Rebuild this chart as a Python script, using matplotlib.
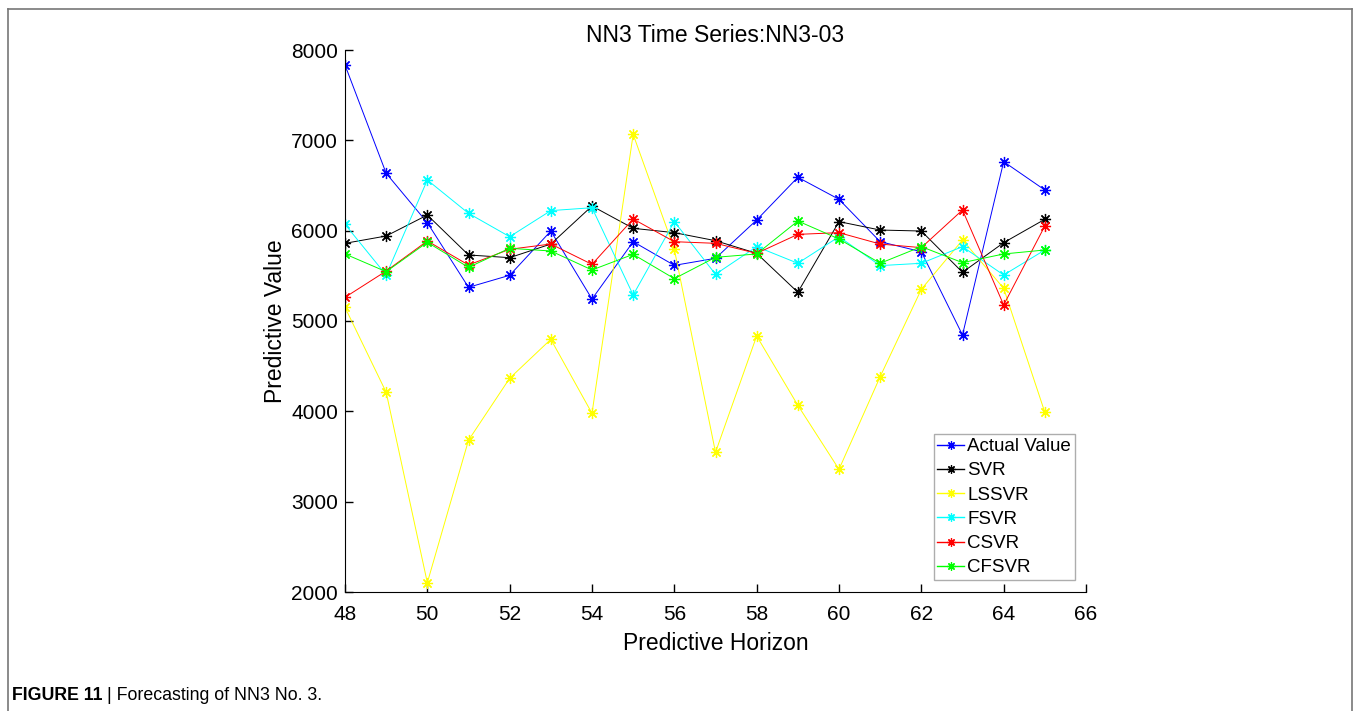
import matplotlib.pyplot as plt
from matplotlib.lines import Line2D

plt.rcParams['font.family'] = ['Liberation Sans', 'DejaVu Sans']

# forecast horizon and series
horizon = list(range(48, 66))
actual = [7834, 6635, 6088, 5373, 5506, 5996, 5243, 5878, 5616,
          5694, 6118, 6591, 6347, 5878, 5767, 4845, 6764, 6450]
svr = [5860, 5941, 6173, 5731, 5701, 5852, 6273, 6026, 5978,
       5889, 5749, 5318, 6100, 6007, 5996, 5539, 5867, 6126]
lssvr = [5151, 4211, 2103, 3680, 4366, 4797, 3978, 7066, 5794,
         3546, 4834, 4067, 3358, 4384, 5351, 5897, 5362, 3989]
fsvr = [6070, 5509, 6561, 6192, 5933, 6222, 6254, 5288, 6100,
        5517, 5823, 5639, 5933, 5613, 5639, 5823, 5509, 5786]
csvr = [5262, 5553, 5886, 5620, 5794, 5852, 5627, 6129, 5878,
        5860, 5749, 5959, 5978, 5852, 5812, 6229, 5177, 6052]
cfsvr = [5742, 5546, 5871, 5594, 5805, 5775, 5565, 5738, 5469,
         5705, 5742, 6107, 5908, 5639, 5823, 5646, 5742, 5786]

series = [('Actual Value', actual, '#0000ff'),
          ('SVR', svr, '#000000'),
          ('LSSVR', lssvr, '#ffff00'),
          ('FSVR', fsvr, '#00ffff'),
          ('CSVR', csvr, '#ff0000'),
          ('CFSVR', cfsvr, '#00ff00')]

fig = plt.figure(figsize=(13.56, 7.11), dpi=100)
ax = fig.add_axes([345 / 1356, 1 - 592 / 711, (1086 - 345) / 1356, (592 - 50) / 711])

star = (8, 2, 0)
for name, vals, col in series:
    ax.plot(horizon, vals, color=col, lw=0.7, marker=star, ms=8, mew=0.9,
            label=name)

ax.set_xlim(48, 66)
ax.set_ylim(2000, 8000)
ax.set_xticks(range(48, 67, 2))
ax.set_yticks(range(2000, 8001, 1000))
ax.tick_params(direction='in', length=6, width=1, labelsize=15)
ax.tick_params(axis='x', pad=9)
ax.tick_params(axis='y', pad=5)
for s in ('top', 'right'):
    ax.spines[s].set_visible(False)

ax.set_xlabel('Predictive Horizon', fontsize=16.5, labelpad=6)
ax.set_ylabel('Predictive Value', fontsize=16.5, labelpad=3)
ax.set_title('NN3 Time Series:NN3-03', fontsize=16.5, pad=6)

leg = ax.legend(loc='lower right', bbox_to_anchor=(0.985, 0.022), fontsize=13.5,
                frameon=True, fancybox=False, handlelength=1.4,
                handletextpad=0.2, borderpad=0.2, labelspacing=0.38,
                borderaxespad=0)
leg.get_frame().set_edgecolor('#999999')
leg.get_frame().set_linewidth(1)
for h in leg.legend_handles:
    h.set_markersize(6)
    h.set_linewidth(1.0)

# page frame around the figure (open at the bottom)
frame_col = '#777777'
fig.add_artist(Line2D([8 / 1356, 1352 / 1356], [1 - 9 / 711, 1 - 9 / 711],
                      color=frame_col, lw=1.2))
fig.add_artist(Line2D([8 / 1356, 8 / 1356], [0, 1 - 9 / 711],
                      color=frame_col, lw=1.2))
fig.add_artist(Line2D([1352 / 1356, 1352 / 1356], [0, 1 - 9 / 711],
                      color=frame_col, lw=1.2))

# caption: bold label, then the description right after it
cap_y = 1 - 696 / 711
t1 = fig.text(12 / 1356, cap_y, 'FIGURE 11', fontsize=12.8, fontweight='bold',
              va='center', ha='left')
renderer = fig.canvas.get_renderer()
x_end = t1.get_window_extent(renderer).x1
fig.text((x_end + 5) / 1356, cap_y, '| Forecasting of NN3 No. 3.', fontsize=12.8,
         va='center', ha='left')

fig.savefig('out.png', dpi=100)
